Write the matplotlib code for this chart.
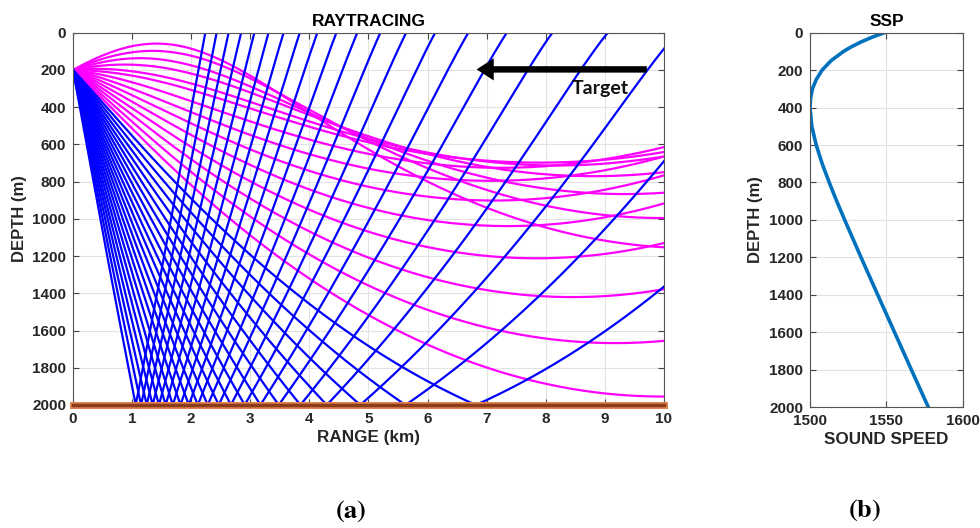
import numpy as np
import matplotlib
matplotlib.use("Agg")
from matplotlib import pyplot as plt

# sound speed profile
ssp_depth = [0, 25, 50, 75, 100, 150, 200, 250, 300, 350, 400, 500, 600, 700,
             800, 900, 1000, 1200, 1400, 1600, 1800, 2000]
ssp_speed = [1548.5, 1540.3, 1533.2, 1527.1, 1521.9, 1513.7, 1507.9, 1504.1,
             1501.6, 1500.4, 1500.0, 1501.2, 1504.1, 1508.0, 1512.6, 1517.5,
             1522.7, 1533.4, 1544.3, 1555.3, 1566.3, 1577.4]

src_depth = 200.0
bottom_depth = 2000.0
max_range = 10000.0
launch_angles = np.linspace(-10, 60, 35)   # deg, positive = downward

target_x = [9.71, 6.83]
target_depth = 197

plt.rcParams["font.family"] = ["Liberation Sans", "DejaVu Sans"]
plt.rcParams["font.weight"] = "bold"
plt.rcParams["mathtext.fontset"] = "stix"
txt = "#262626"

# --- ray tracing through the profile ---
zs = np.array(ssp_depth, float)
cs = np.array(ssp_speed, float)
grads = np.diff(cs) / np.diff(zs)

def grad_at(z):
    i = np.clip(np.searchsorted(zs, z) - 1, 0, len(grads) - 1)
    return grads[i]

n = len(launch_angles)
th = np.deg2rad(launch_angles)
r = np.zeros(n)
z = np.full(n, src_depth)
active = np.ones(n, bool)
hit = np.zeros(n, bool)
paths_r = [[0.0] for _ in range(n)]
paths_z = [[src_depth] for _ in range(n)]
ds = 2.0
while active.any():
    c = np.interp(z, zs, cs)
    g = grad_at(z)
    th = th - np.cos(th) / c * g * ds
    r = r + np.cos(th) * ds
    z = z + np.sin(th) * ds
    below = z > bottom_depth
    if below.any():
        z[below] = 2 * bottom_depth - z[below]
        th[below] = -th[below]
        hit |= below
    for k in np.where(active)[0]:
        if below[k]:
            paths_r[k].append(r[k])
            paths_z[k].append(bottom_depth)
        paths_r[k].append(min(r[k], max_range))
        paths_z[k].append(max(z[k], 0.0))
    active &= (z > 0) & (r < max_range)

fig = plt.figure(figsize=(9.8, 5.28), dpi=100)
ax = fig.add_axes([0.0745, 0.233, 0.603, 0.705])
ax2 = fig.add_axes([0.8265, 0.229, 0.156, 0.709])

for k in range(n):
    col = "#0000FF" if hit[k] else "#FF00FF"
    ax.plot(np.array(paths_r[k]) / 1000, paths_z[k], color=col, lw=1.6)

ax.plot([0, 10], [bottom_depth, bottom_depth], color="#E0804A", lw=5, clip_on=False, zorder=5)
ax.plot([0, 10], [bottom_depth, bottom_depth], color="#8B3A1A", lw=2.5, clip_on=False, zorder=6)

ax.annotate("", xy=(target_x[1], target_depth), xytext=(target_x[0], target_depth),
            arrowprops=dict(arrowstyle="simple,head_length=0.85,head_width=1.1,tail_width=0.32",
                            mutation_scale=14.5, fc="black", ec="black", lw=0,
                            shrinkA=0, shrinkB=0), zorder=7)
ax.text(8.93, 302, "Target", fontsize=14, fontweight="bold", family="Lato",
        ha="center", va="center", color="#111111", zorder=7)

for a in (ax, ax2):
    a.set_ylim(2000, 0)
    a.set_yticks(np.arange(0, 2001, 200))
    a.grid(True, color="#E2E2E2", lw=0.8)
    a.set_axisbelow(True)
    a.tick_params(direction="in", top=True, right=True, length=4, color="#444444",
                  labelsize=11, labelcolor=txt, pad=5)
    for sp in a.spines.values():
        sp.set_color("#555555")
        sp.set_linewidth(0.8)
    a.set_ylabel("DEPTH (m)", fontsize=12, fontweight="bold", color=txt, labelpad=4)

ax.set_xlim(0, 10)
ax.set_xticks(np.arange(0, 11, 1))
ax.set_xlabel("RANGE (km)", fontsize=12.3, fontweight="bold", color=txt, labelpad=3)
ax.set_title("RAYTRACING", fontsize=12.5, fontweight="bold", color="black", pad=5)

ax2.plot(ssp_speed, ssp_depth, color="#0072BD", lw=2.6)
ax2.set_xlim(1500, 1600)
ax2.set_xticks([1500, 1550, 1600])
ax2.set_xlabel("SOUND SPEED", fontsize=12.3, fontweight="bold", color=txt, labelpad=3)
ax2.set_title("SSP", fontsize=12.5, fontweight="bold", color="black", pad=5)

for a in (ax, ax2):
    for lab in a.get_xticklabels() + a.get_yticklabels():
        lab.set_fontweight("bold")

fig.text(351 / 980, 1 - 511 / 528, r"$(\mathbf{a})$", fontsize=19, ha="center", va="center")
fig.text(865 / 980, 1 - 510 / 528, r"$(\mathbf{b})$", fontsize=19, ha="center", va="center")

fig.savefig("out.png", dpi=100)
